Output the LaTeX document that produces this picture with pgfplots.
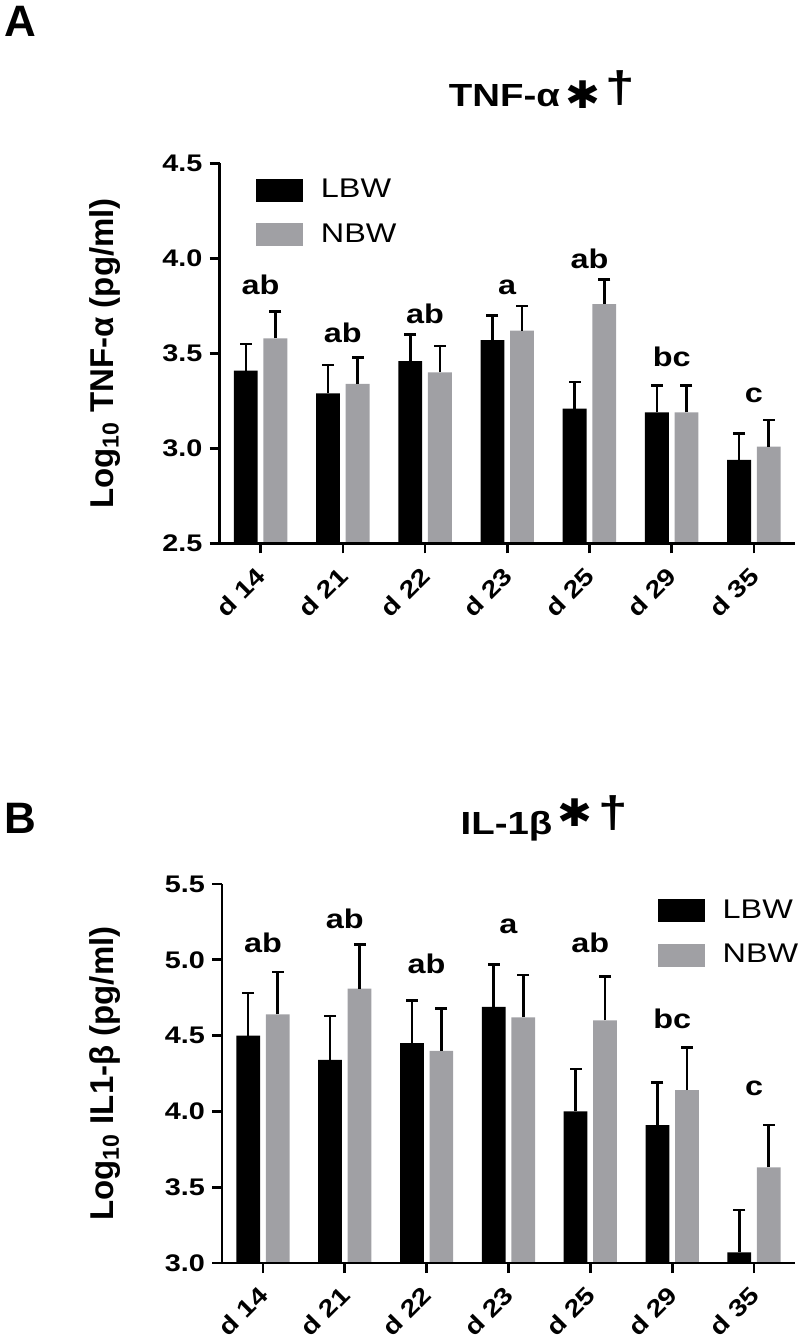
\documentclass[border=0pt]{standalone}
\usepackage{fontspec}
\setmainfont{Liberation Sans}[FakeStretch=1.2]
\newfontfamily\plainfont{Liberation Sans}
\newfontfamily\dejavu{DejaVu Sans}[FakeStretch=1.1]
\usepackage{pgfplots}
\pgfplotsset{compat=1.18}
\usepackage{pgfplotstable}

\definecolor{nbw}{RGB}{160,160,164}

\pgfplotstableread{
x y e
0 3.41 0.14
1 3.29 0.15
2 3.46 0.14
3 3.57 0.13
4 3.21 0.14
5 3.19 0.14
6 2.94 0.14
}\tnfLBW
\pgfplotstableread{
x y e
0 3.58 0.14
1 3.34 0.14
2 3.40 0.14
3 3.62 0.13
4 3.76 0.13
5 3.19 0.14
6 3.01 0.14
}\tnfNBW
\pgfplotstableread{
x y e
0 4.50 0.28
1 4.34 0.29
2 4.45 0.28
3 4.69 0.28
4 4.00 0.28
5 3.91 0.28
6 3.07 0.28
}\ilLBW
\pgfplotstableread{
x y e
0 4.64 0.28
1 4.81 0.29
2 4.40 0.28
3 4.62 0.28
4 4.60 0.29
5 4.14 0.28
6 3.63 0.28
}\ilNBW

\newcommand\legfont{\fontsize{13.5}{13.5}\selectfont}

\pgfplotsset{
  mybars/.style={
    scale only axis,
    axis lines=left,
    axis on top,
    axis line style={line width=1.3pt,-},
    xmin=-0.5, xmax=6.5,
    xtick={0,1,2,3,4,5,6},
    xticklabels={d 14,d 21,d 22,d 23,d 25,d 29,d 35},
    tick style={line width=1.3pt,black},
    major tick length=5pt,
    tick align=outside,
    /pgf/number format/assume math mode=true,
    xticklabel style={rotate=45, anchor=north east, inner sep=0pt, yshift=-2pt, xshift=-6pt,
      font=\bfseries\fontsize{12}{12}\selectfont},
    yticklabel style={font=\bfseries\fontsize{12}{12}\selectfont,
      /pgf/number format/.cd, fixed, fixed zerofill, precision=1},
    ylabel style={font=\plainfont\bfseries\fontsize{16.5}{16.5}\selectfont, anchor=center},
    ybar, bar width=0.29,
  },
  lbw/.style={forget plot, fill=black, draw=none, bar shift=-0.18,
    error bars/.cd, y dir=plus, y explicit,
    error bar style={draw=black, line width=1.3pt}},
  nbw/.style={forget plot, fill=nbw, draw=none, bar shift=0.18,
    error bars/.cd, y dir=plus, y explicit,
    error bar style={draw=black, line width=1.3pt}},
  caps/.style={forget plot, only marks, mark=-, mark size=3pt,
    mark options={solid, draw=black, line width=1.3pt}, draw=black},
  mylegend/.style={legend style={draw=none, fill=none, inner sep=0pt,
      nodes={font=\legfont, inner sep=1pt},
      row sep=9.5pt, column sep=8pt, cells={anchor=west}}},
}

\begin{document}
\begin{tikzpicture}
\path[use as bounding box] (0,0) rectangle (400pt,668.5pt);

% Panel labels
\node[anchor=north west, inner sep=0pt, font=\plainfont\bfseries\fontsize{22}{22}\selectfont] at (2pt,665.5pt) {A};
\node[anchor=north west, inner sep=0pt, font=\plainfont\bfseries\fontsize{22}{22}\selectfont] at (2pt,267pt) {B};

% Titles
\node[anchor=base, inner sep=0pt, font=\bfseries\fontsize{16}{16}\selectfont] at (271pt,615pt)
  {TNF-α\,{\dejavu\bfseries\fontsize{19}{19}\selectfont\raisebox{-1pt}{✱}}\,\raisebox{2pt}{\fontsize{22}{22}\selectfont †}};
\node[anchor=base, inner sep=0pt, font=\bfseries\fontsize{16}{16}\selectfont] at (272pt,251pt)
  {IL-1β\,{\dejavu\bfseries\fontsize{19}{19}\selectfont\raisebox{4pt}{✱}}\,\raisebox{3.5pt}{\fontsize{22}{22}\selectfont †}};

% Panel A
\begin{axis}[mybars, mylegend,
  at={(109.75pt,396.75pt)}, anchor=south west,
  width=287.75pt, height=190pt,
  ymin=2.5, ymax=4.5, ytick={2.5,3.0,3.5,4.0,4.5},
  ylabel={Log\textsubscript{10} TNF-α (pg/ml)},
  ylabel style={at={(axis description cs:-0.199,0.5)}},
  legend style={at={(0.063,0.965)}, anchor=north west},
]
\addlegendimage{area legend, legend image code/.code={\fill[black] (0pt,-5.5pt) rectangle (23pt,5.5pt);}}
\addlegendentry{LBW}
\addlegendimage{area legend, legend image code/.code={\fill[nbw] (0pt,-5.5pt) rectangle (23pt,5.5pt);}}
\addlegendentry{NBW}
\addplot[lbw] table[x=x, y=y, y error=e] {\tnfLBW};
\addplot[nbw] table[x=x, y=y, y error=e] {\tnfNBW};
\addplot[caps] table[x expr=\thisrow{x}-0.18, y expr=\thisrow{y}+\thisrow{e}] {\tnfLBW};
\addplot[caps] table[x expr=\thisrow{x}+0.18, y expr=\thisrow{y}+\thisrow{e}] {\tnfNBW};
\begin{scope}[every node/.style={font=\bfseries\fontsize{13.5}{13.5}\selectfont}]
\node at (axis cs:0,3.86) {ab};
\node at (axis cs:1,3.61) {ab};
\node at (axis cs:2,3.71) {ab};
\node at (axis cs:3,3.85) {a};
\node at (axis cs:4,4.00) {ab};
\node at (axis cs:5,3.48) {bc};
\node at (axis cs:6,3.28) {c};
\end{scope}
\end{axis}

% Panel B
\begin{axis}[mybars, mylegend,
  at={(111pt,37pt)}, anchor=south west,
  width=286.5pt, height=189.5pt,
  ymin=3.0, ymax=5.5, ytick={3.0,3.5,4.0,4.5,5.0,5.5},
  ylabel={Log\textsubscript{10} IL1-β (pg/ml)},
  ylabel style={at={(axis description cs:-0.204,0.5)}},
  legend style={at={(0.76,0.965)}, anchor=north west},
]
\addlegendimage{area legend, legend image code/.code={\fill[black] (0pt,-5.5pt) rectangle (23pt,5.5pt);}}
\addlegendentry{LBW}
\addlegendimage{area legend, legend image code/.code={\fill[nbw] (0pt,-5.5pt) rectangle (23pt,5.5pt);}}
\addlegendentry{NBW}
\addplot[lbw] table[x=x, y=y, y error=e] {\ilLBW};
\addplot[nbw] table[x=x, y=y, y error=e] {\ilNBW};
\addplot[caps] table[x expr=\thisrow{x}-0.18, y expr=\thisrow{y}+\thisrow{e}] {\ilLBW};
\addplot[caps] table[x expr=\thisrow{x}+0.18, y expr=\thisrow{y}+\thisrow{e}] {\ilNBW};
\begin{scope}[every node/.style={font=\bfseries\fontsize{13.5}{13.5}\selectfont}]
\node at (axis cs:0,5.11) {ab};
\node at (axis cs:1,5.27) {ab};
\node at (axis cs:2,4.97) {ab};
\node at (axis cs:3,5.22) {a};
\node at (axis cs:4,5.11) {ab};
\node at (axis cs:5,4.61) {bc};
\node at (axis cs:6,4.15) {c};
\end{scope}
\end{axis}
\end{tikzpicture}
\end{document}
